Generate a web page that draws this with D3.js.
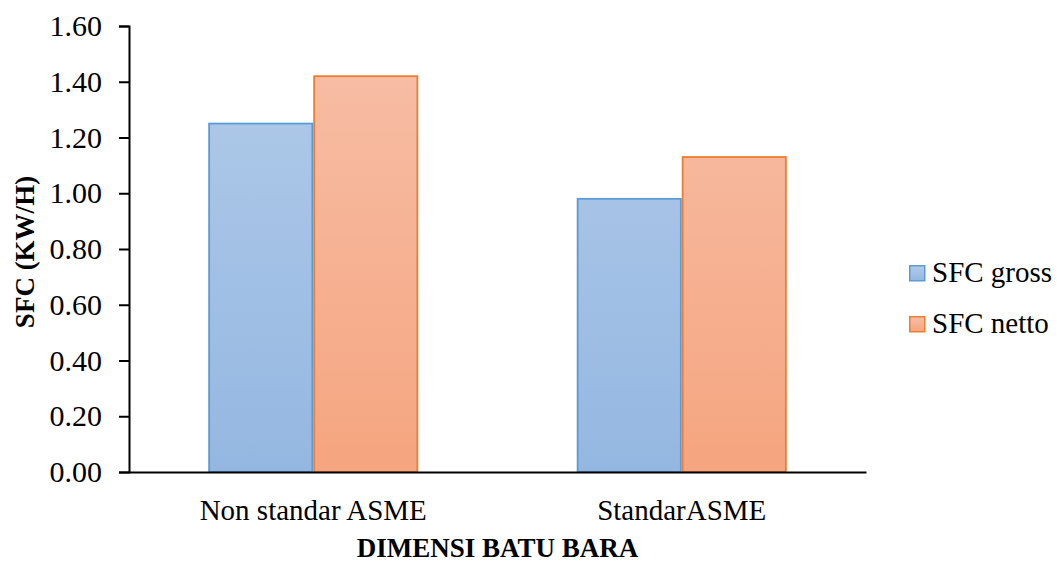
<!DOCTYPE html>
<html>
<head>
<meta charset="utf-8">
<script src="https://cdn.jsdelivr.net/npm/d3@7"></script>
<style>
  html, body { margin: 0; padding: 0; background: #fff; }
  svg text { font-family: "Liberation Serif", "Times New Roman", serif; fill: #000; }
</style>
</head>
<body>
<svg id="chart" width="1057" height="565"></svg>
<script>
// Chart data
const categories = ["Non standar ASME", "StandarASME"];
const seriesNames = ["SFC gross", "SFC netto"];
const sfcGross = [1.25, 0.98];
const sfcNetto = [1.42, 1.13];
const yTicks = [0, 0.2, 0.4, 0.6, 0.8, 1.0, 1.2, 1.4, 1.6];

const rows = categories.map((c, i) => ({ category: c, values: [sfcGross[i], sfcNetto[i]] }));

const svg = d3.select("#chart");
const plot = { left: 129, right: 866, top: 26, bottom: 472 };

const x = d3.scaleBand()
  .domain(categories)
  .range([plot.left, plot.right])
  .paddingInner(0.43)
  .paddingOuter(0.215);

const xSub = d3.scaleBand()
  .domain(seriesNames)
  .range([0, x.bandwidth()])
  .padding(0);

const y = d3.scaleLinear().domain([0, 1.6]).range([plot.bottom, plot.top]);

// Vertical gradients for bar fills
const defs = svg.append("defs");
const palettes = [
  { id: "gradGross", top: "#b2cbe9", bottom: "#94b7e1", stroke: "#5b9bd5" },
  { id: "gradNetto", top: "#f7bfa8", bottom: "#f5a57f", stroke: "#ed7d31" }
];
palettes.forEach(p => {
  const g = defs.append("linearGradient").attr("id", p.id)
    .attr("x1", 0).attr("y1", 0).attr("x2", 0).attr("y2", 1);
  g.append("stop").attr("offset", "0%").attr("stop-color", p.top);
  g.append("stop").attr("offset", "100%").attr("stop-color", p.bottom);
});
// Gradient spanning the full plot height so both bars shade alike
palettes.forEach(p => {
  const g = defs.append("linearGradient").attr("id", p.id + "Plot")
    .attr("gradientUnits", "userSpaceOnUse")
    .attr("x1", 0).attr("y1", y(1.6)).attr("x2", 0).attr("y2", y(0));
  g.append("stop").attr("offset", "0%").attr("stop-color", p.top);
  g.append("stop").attr("offset", "100%").attr("stop-color", p.bottom);
});

// Bars
const groups = svg.append("g").selectAll("g")
  .data(rows).join("g")
  .attr("transform", d => `translate(${x(d.category)},0)`);

groups.selectAll("rect")
  .data(d => d.values.map((v, i) => ({ series: seriesNames[i], value: v, idx: i })))
  .join("rect")
  .attr("x", d => xSub(d.series) + 0.9)
  .attr("y", d => y(d.value))
  .attr("width", xSub.bandwidth() - 1.8)
  .attr("height", d => y(0) - y(d.value))
  .attr("fill", d => `url(#${palettes[d.idx].id}Plot)`)
  .attr("stroke", d => palettes[d.idx].stroke)
  .attr("stroke-width", 1.8);

// Y axis
const yAxis = d3.axisLeft(y)
  .tickValues(yTicks)
  .tickFormat(d3.format(".2f"))
  .tickSize(10)
  .tickPadding(17);

const yG = svg.append("g")
  .attr("transform", `translate(${plot.left},0)`)
  .call(yAxis);
yG.select(".domain").attr("stroke", "#000").attr("stroke-width", 2);
yG.selectAll(".tick line").attr("stroke", "#000").attr("stroke-width", 2);
yG.selectAll(".tick text")
  .attr("font-size", 30)
  .attr("font-family", "Liberation Serif")
  .attr("fill", "#000");

// X axis
const xAxis = d3.axisBottom(x).tickSize(0).tickPadding(27);
const xG = svg.append("g")
  .attr("transform", `translate(0,${plot.bottom})`)
  .call(xAxis);
xG.select(".domain").attr("stroke", "#000").attr("stroke-width", 2);
xG.selectAll(".tick text")
  .attr("font-size", 29)
  .attr("font-family", "Liberation Serif")
  .attr("fill", "#000");

// Axis titles
svg.append("text")
  .attr("x", (plot.left + plot.right) / 2)
  .attr("y", 557)
  .attr("text-anchor", "middle")
  .attr("font-size", 27)
  .attr("font-weight", "bold")
  .text("DIMENSI BATU BARA");

svg.append("text")
  .attr("transform", `translate(34,${(plot.top + plot.bottom) / 2 + 3}) rotate(-90)`)
  .attr("text-anchor", "middle")
  .attr("font-size", 27)
  .attr("font-weight", "bold")
  .text("SFC (KW/H)");

// Legend
const legend = svg.append("g").attr("transform", "translate(909,265)");
const items = legend.selectAll("g")
  .data(seriesNames).join("g")
  .attr("transform", (d, i) => `translate(0,${i * 51})`);
items.append("rect")
  .attr("x", 0.75).attr("y", 0.75)
  .attr("width", 15).attr("height", 15)
  .attr("fill", (d, i) => `url(#${palettes[i].id})`)
  .attr("stroke", (d, i) => palettes[i].stroke)
  .attr("stroke-width", 1.5);
items.append("text")
  .attr("x", 23)
  .attr("y", 17)
  .attr("font-size", 29)
  .text(d => d);
</script>
</body>
</html>
